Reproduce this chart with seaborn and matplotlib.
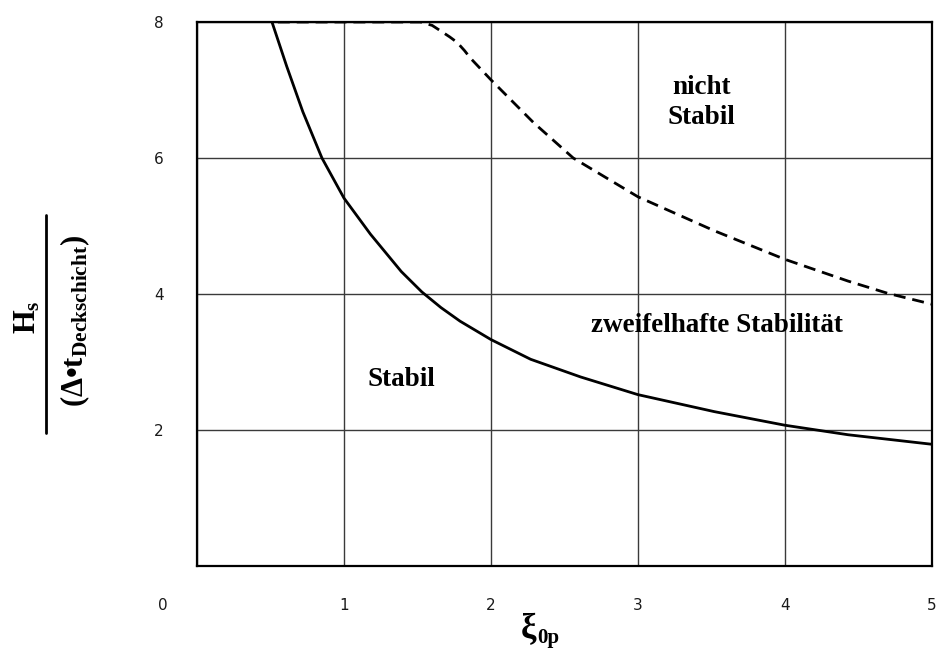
import pandas as pd
import matplotlib
matplotlib.use('Agg')
import matplotlib.pyplot as plt
import seaborn as sns
from matplotlib.lines import Line2D
from matplotlib.transforms import ScaledTranslation

# Stability curves
stabil_x = [0.51, 0.61, 0.72, 0.85, 1.0, 1.18, 1.39, 1.53, 1.66, 1.79, 1.93, 2.0,
            2.27, 2.61, 3.0, 3.52, 4.0, 4.43, 5.0]
stabil_y = [8.0, 7.35, 6.68, 6.0, 5.41, 4.88, 4.33, 4.03, 3.80, 3.60, 3.42, 3.33,
            3.04, 2.78, 2.52, 2.27, 2.07, 1.93, 1.79]

nicht_x = [0.55, 1.0, 1.52, 1.6, 1.65, 1.72, 1.77, 1.82, 1.86, 2.0, 2.29, 2.56,
           3.0, 3.52, 4.0, 4.43, 4.70, 5.0]
nicht_y = [8.0, 8.0, 8.0, 7.95, 7.88, 7.78, 7.7, 7.58, 7.47, 7.15, 6.52, 6.0,
           5.43, 4.93, 4.51, 4.19, 4.01, 3.85]

x_ticks = [0, 1, 2, 3, 4, 5]
y_ticks = [2, 4, 6, 8]

# Region labels
regions = ['nicht\nStabil', 'zweifelhafte Stabilität', 'Stabil']
region_x = [3.43, 3.54, 1.39]
region_y = [6.82, 3.54, 2.74]

sns.set_style('white')
plt.rcParams['mathtext.fontset'] = 'custom'
plt.rcParams['mathtext.rm'] = 'Liberation Serif:bold'
plt.rcParams['mathtext.it'] = 'Liberation Serif:bold'
plt.rcParams['mathtext.bf'] = 'Liberation Serif:bold'
plt.rcParams['font.family'] = ['DejaVu Sans']
plt.rcParams['text.color'] = 'black'

fig = plt.figure(figsize=(9.36, 6.51), dpi=100)
ax = fig.add_axes([0.2105, 0.1306, 0.785, 0.8356])

df_stabil = pd.DataFrame({'xi': stabil_x, 'h': stabil_y})
df_nicht = pd.DataFrame({'xi': nicht_x, 'h': nicht_y})

sns.lineplot(data=df_stabil, x='xi', y='h', ax=ax, color='black', lw=2, zorder=3)
sns.lineplot(data=df_nicht, x='xi', y='h', ax=ax, color='black', lw=2,
             linestyle=(0, (4.3, 2.5)), zorder=3)

ax.set_xlim(0, 5)
ax.set_ylim(0, 8)
ax.set_xticks(x_ticks)
ax.set_yticks(y_ticks)
ax.set_xticklabels([str(v) for v in x_ticks], fontsize=11, color='#1a1a1a')
ax.set_yticklabels([str(v) for v in y_ticks], fontsize=11, color='#1a1a1a')
ax.tick_params(axis='x', length=0, pad=23)
ax.tick_params(axis='y', length=0, pad=24)
ax.grid(True, color='#3a3a3a', lw=1)
for s in ax.spines.values():
    s.set_color('black')
    s.set_linewidth(1.6)
ax.set_xlabel('')
ax.set_ylabel('')

# the "0" label sits further left in the original
lab0 = ax.get_xticklabels()[0]
lab0.set_transform(lab0.get_transform() + ScaledTranslation(-0.34, 0, fig.dpi_scale_trans))

for txt, tx, ty in zip(regions, region_x, region_y):
    ax.text(tx, ty, txt, ha='center', va='center', fontsize=19.5, color='black',
            fontweight='bold', family='Liberation Serif', linespacing=1.25)

# axis titles
fig.text(536 / 936, 1 - 638 / 651, 'ξ', fontsize=25, family='Liberation Serif',
         fontweight='bold', ha='right', va='baseline', color='black')
fig.text(537 / 936, 1 - 643 / 651, '0p', fontsize=15, family='Liberation Serif',
         fontweight='bold', ha='left', va='baseline', color='black')
fig.text(27 / 936, 1 - 317 / 651, r'$H_s$', fontsize=22, rotation=90, ha='center',
         va='center', color='black')
fig.text(75 / 936, 1 - 321 / 651, r'$(Δ•t_{Deckschicht})$', fontsize=22, rotation=90,
         ha='center', va='center', color='black')
fig.add_artist(Line2D([46 / 936, 46 / 936], [1 - 215 / 651, 1 - 433 / 651],
                      transform=fig.transFigure, color='black', lw=2))

plt.savefig('out.png', dpi=100)
plt.close()
